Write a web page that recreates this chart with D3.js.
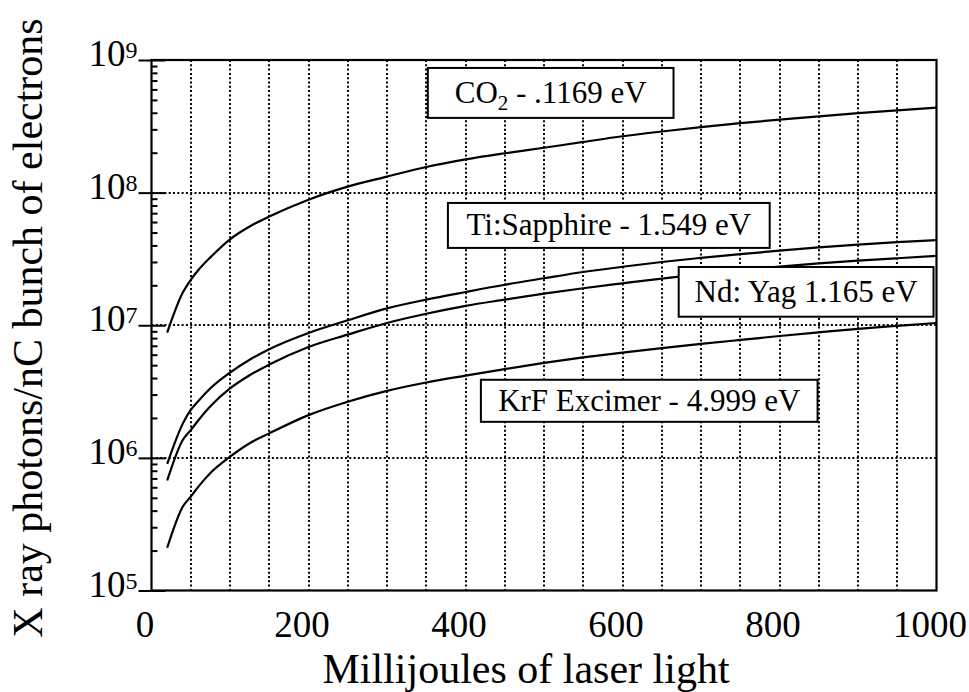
<!DOCTYPE html>
<html>
<head>
<meta charset="utf-8">
<script src="https://cdn.jsdelivr.net/npm/d3@7"></script>
<style>
  body { margin: 0; background: #fff; }
  text { font-family: "Liberation Serif", "DejaVu Serif", serif; fill: #000; }
</style>
</head>
<body>
<div id="chart"></div>
<script>
// laser energy (mJ) at which each curve was read
var energy = [20, 40, 50, 60, 75, 100, 125, 150, 200, 250, 300, 350, 400, 450,
              500, 550, 600, 650, 700, 750, 800, 850, 900, 950, 1000];

// x ray photons per nC bunch
var co2 = [8.8e6, 1.77e7, 2.2e7, 2.62e7, 3.25e7, 4.45e7, 5.56e7, 6.6e7, 8.85e7, 1.11e8,
           1.32e8, 1.56e8, 1.78e8, 1.98e8, 2.18e8, 2.41e8, 2.66e8, 2.89e8, 3.12e8, 3.34e8,
           3.55e8, 3.76e8, 3.97e8, 4.17e8, 4.37e8];
var tiSapphire = [9.0e5, 1.82e6, 2.3e6, 2.7e6, 3.35e6, 4.4e6, 5.5e6, 6.6e6, 8.75e6, 1.09e7,
                  1.34e7, 1.56e7, 1.78e7, 2.02e7, 2.26e7, 2.52e7, 2.76e7, 3.0e7, 3.22e7, 3.44e7,
                  3.65e7, 3.86e7, 4.05e7, 4.23e7, 4.39e7];
var ndYag = [6.75e5, 1.37e6, 1.62e6, 1.93e6, 2.45e6, 3.34e6, 4.2e6, 5.05e6, 6.85e6, 8.5e6,
             1.04e7, 1.22e7, 1.40e7, 1.56e7, 1.73e7, 1.90e7, 2.07e7, 2.25e7, 2.43e7, 2.60e7,
             2.77e7, 2.93e7, 3.07e7, 3.20e7, 3.33e7];
var krf = [2.1e5, 4.3e5, 5.1e5, 6.1e5, 7.7e5, 1.02e6, 1.29e6, 1.53e6, 2.1e6, 2.65e6,
           3.2e6, 3.7e6, 4.17e6, 4.67e6, 5.2e6, 5.72e6, 6.22e6, 6.72e6, 7.23e6, 7.75e6,
           8.3e6, 8.85e6, 9.4e6, 9.9e6, 1.04e7];

var xTicks = [0, 200, 400, 600, 800, 1000];
var yExponents = [5, 6, 7, 8, 9];

// label text and where its box sits, in data units: [x0, x1, yTop, yBottom]
var labels = [
  {name: "CO", sub: "2", rest: " - .1169 eV", box: [352, 665, 8.71e8, 3.66e8]},
  {name: "Ti:Sapphire - 1.549 eV", sub: "", rest: "", box: [377.6, 787.5, 8.36e7, 3.83e7]},
  {name: "Nd: Yag 1.165 eV", sub: "", rest: "", box: [671.6, 996.2, 2.75e7, 1.16e7]},
  {name: "KrF Excimer - 4.999 eV", sub: "", rest: "", box: [419.6, 848.5, 3.88e6, 1.87e6]}
];

var W = 969, H = 692;
var margin = {top: 60, right: 32.5, bottom: 101.5, left: 151.5};

var svg = d3.select("#chart")
  .append("svg")
    .attr("width", W)
    .attr("height", H)
    .attr("font-family", "Liberation Serif");

var x = d3.scaleLinear()
    .domain([0, 1000])
    .range([margin.left, W - margin.right]);

var y = d3.scaleLog()
    .domain([1e5, 1e9])
    .range([H - margin.bottom, margin.top]);

// dotted grid
var grid = svg.append("g")
    .attr("stroke", "#000")
    .attr("stroke-width", 2)
    .attr("stroke-dasharray", "2,2.3");
grid.selectAll(".vg")
  .data(d3.range(50, 1000, 50))
  .enter().append("line")
    .attr("x1", d => Math.round(x(d))).attr("x2", d => Math.round(x(d)))
    .attr("y1", y(1e9)).attr("y2", y(1e5));
grid.selectAll(".hg")
  .data([1e6, 1e7, 1e8])
  .enter().append("line")
    .attr("x1", x(0)).attr("x2", x(1000))
    .attr("y1", d => Math.round(y(d))).attr("y2", d => Math.round(y(d)));

// curves
var line = d3.line()
    .x((d, i) => x(energy[i]))
    .y(d => y(d))
    .curve(d3.curveMonotoneX);

svg.append("g")
  .selectAll("path")
  .data([co2, tiSapphire, ndYag, krf])
  .enter().append("path")
    .attr("d", line)
    .attr("fill", "none")
    .attr("stroke", "#000")
    .attr("stroke-width", 2.2);

// frame
svg.append("rect")
    .attr("x", x(0)).attr("y", y(1e9))
    .attr("width", x(1000) - x(0))
    .attr("height", y(1e5) - y(1e9))
    .attr("fill", "none")
    .attr("stroke", "#000")
    .attr("stroke-width", 2.2);

// y axis: major ticks out and in, minor ticks inside
var majors = yExponents.map(e => Math.pow(10, e));
var minors = [];
yExponents.slice(0, -1).forEach(function(e) {
  for (var k = 2; k <= 9; k++) minors.push(k * Math.pow(10, e));
});

svg.append("g")
    .attr("transform", "translate(" + x(0) + ",0)")
    .call(d3.axisLeft(y).tickValues(majors).tickSize(13).tickFormat(""));
svg.append("g")
    .attr("transform", "translate(" + x(0) + ",0)")
    .call(d3.axisRight(y).tickValues(majors).tickSize(14).tickFormat(""));
svg.append("g")
    .attr("transform", "translate(" + x(0) + ",0)")
    .call(d3.axisRight(y).tickValues(minors).tickSize(6).tickFormat(""));
svg.selectAll(".domain").remove();
svg.selectAll(".tick line").attr("stroke-width", 2);

svg.append("g")
  .selectAll("text")
  .data(yExponents)
  .enter().append("text")
    .attr("x", x(0) - 14)
    .attr("y", d => y(Math.pow(10, d)) + 6)
    .attr("text-anchor", "end")
    .style("font-size", "37px")
    .each(function(d) {
      var t = d3.select(this);
      t.append("tspan").text("10");
      t.append("tspan").attr("dy", -8).style("font-size", "24px").text(d);
    });

// x axis labels
svg.append("g")
    .attr("transform", "translate(0," + y(1e5) + ")")
    .call(d3.axisBottom(x).tickValues(xTicks).tickSize(0).tickPadding(20).tickFormat(d3.format("d")))
    .call(g => g.select(".domain").remove())
    .selectAll("text")
      .attr("dx", -7)
      .style("font-size", "37px");

// labelled boxes
var lab = svg.append("g")
  .selectAll("g")
  .data(labels)
  .enter().append("g");
lab.append("rect")
    .attr("x", d => x(d.box[0]))
    .attr("y", d => y(d.box[2]))
    .attr("width", d => x(d.box[1]) - x(d.box[0]))
    .attr("height", d => y(d.box[3]) - y(d.box[2]))
    .attr("fill", "#fff")
    .attr("stroke", "#000")
    .attr("stroke-width", 2);
lab.append("text")
    .attr("x", d => (x(d.box[0]) + x(d.box[1])) / 2)
    .attr("y", d => (y(d.box[2]) + y(d.box[3])) / 2 + 10)
    .attr("text-anchor", "middle")
    .style("font-size", "31px")
    .each(function(d) {
      var t = d3.select(this);
      t.append("tspan").text(d.name);
      if (d.sub) {
        t.append("tspan").attr("dy", 7).style("font-size", "21px").text(d.sub);
        t.append("tspan").attr("dy", -7).text(d.rest);
      }
    });

// axis titles
svg.append("text")
    .attr("x", (x(0) + x(1000)) / 2 - 18)
    .attr("y", 683)
    .attr("text-anchor", "middle")
    .style("font-size", "42px")
    .text("Millijoules of laser light");

svg.append("text")
    .attr("transform", "translate(42,328) rotate(-90)")
    .attr("text-anchor", "middle")
    .style("font-size", "42px")
    .text("X ray photons/nC bunch of electrons");
</script>
</body>
</html>
